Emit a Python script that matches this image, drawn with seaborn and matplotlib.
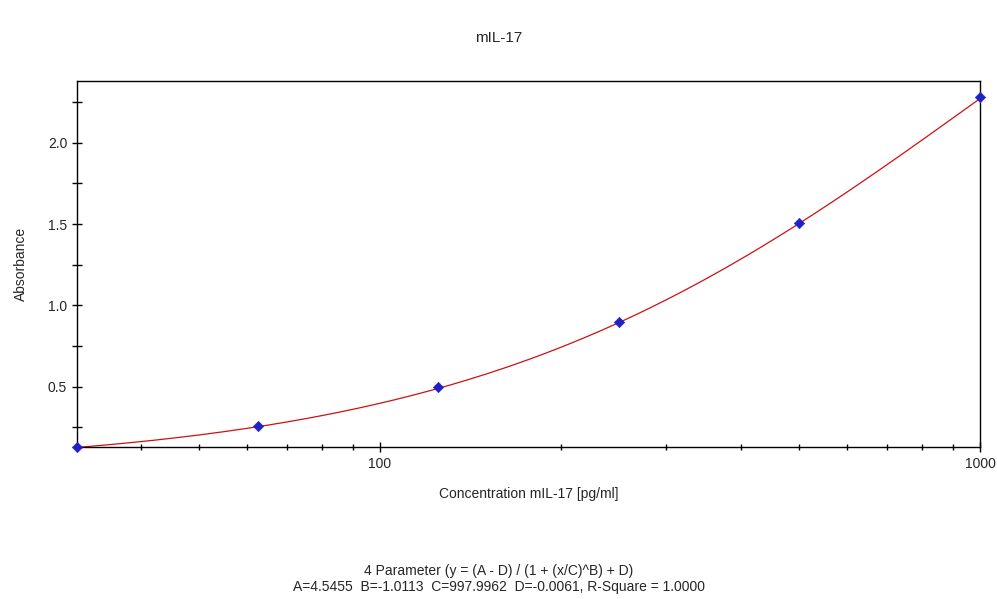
import numpy as np
import pandas as pd
import matplotlib
matplotlib.use('Agg')
import matplotlib.pyplot as plt
import seaborn as sns
from matplotlib.ticker import LogLocator, FixedLocator, NullFormatter

# standards (pg/ml) and measured absorbance
conc = [31.25, 62.5, 125, 250, 500, 1000]
absorbance = [0.13, 0.26, 0.50, 0.90, 1.51, 2.28]

# 4PL fit parameters as printed under the chart
A, B, C, D = 4.5455, -1.0113, 997.9962, -0.0061

sns.set_style('white')
plt.rcParams['font.family'] = ['Liberation Sans', 'DejaVu Sans']

points = pd.DataFrame({'conc': conc, 'abs': absorbance})
xs = np.logspace(np.log10(conc[0]), np.log10(conc[-1]), 200)
fit = pd.DataFrame({'conc': xs, 'abs': (A - D) / (1 + (xs / C) ** B) + D})

fig = plt.figure(figsize=(9.97, 5.99), dpi=100)
ax = fig.add_axes([0.0772, 0.2538, 0.9058, 0.611])

sns.lineplot(data=fit, x='conc', y='abs', color='#d01010', linewidth=0.9, ax=ax)
sns.scatterplot(data=points, x='conc', y='abs', marker='D', s=28, color='#2020c8',
                edgecolor='#2020c8', zorder=5, clip_on=False, ax=ax)

ax.set_xscale('log')
ax.set_xlim(31.25, 1000)
ax.set_ylim(0.13, 2.38)
ax.xaxis.set_major_locator(FixedLocator([100, 1000]))
ax.xaxis.set_major_formatter(matplotlib.ticker.FixedFormatter(['100', '1000']))
ax.xaxis.set_minor_locator(LogLocator(base=10, subs=np.arange(2, 10)))
ax.xaxis.set_minor_formatter(NullFormatter())
ax.yaxis.set_major_locator(FixedLocator([0.5, 1.0, 1.5, 2.0]))
ax.yaxis.set_minor_locator(FixedLocator([0.25, 0.75, 1.25, 1.75, 2.25]))

ax.tick_params(axis='both', which='both', direction='inout', length=7, width=1,
               color='black', labelsize=10, bottom=True, left=True, top=False, right=False)
ax.tick_params(axis='x', which='minor', length=5)
ax.tick_params(axis='y', which='minor', length=7)
for s in ax.spines.values():
    s.set_color('black')
    s.set_linewidth(1)

ax.set_xlabel('Concentration mIL-17 [pg/ml]', fontsize=10, labelpad=12)
ax.set_ylabel('Absorbance', fontsize=10, labelpad=14)
fig.text(0.5, 0.937, 'mIL-17', ha='center', va='center', fontsize=11)
fig.text(0.5, 0.951 - 0.0, '', ha='center')
fig.text(0.5, 0.046, '4 Parameter (y = (A - D) / (1 + (x/C)^B) + D)', ha='center', va='center', fontsize=10)
fig.text(0.5, 0.020, 'A=4.5455  B=-1.0113  C=997.9962  D=-0.0061, R-Square = 1.0000',
         ha='center', va='center', fontsize=10)

fig.savefig('out.png', dpi=100)
